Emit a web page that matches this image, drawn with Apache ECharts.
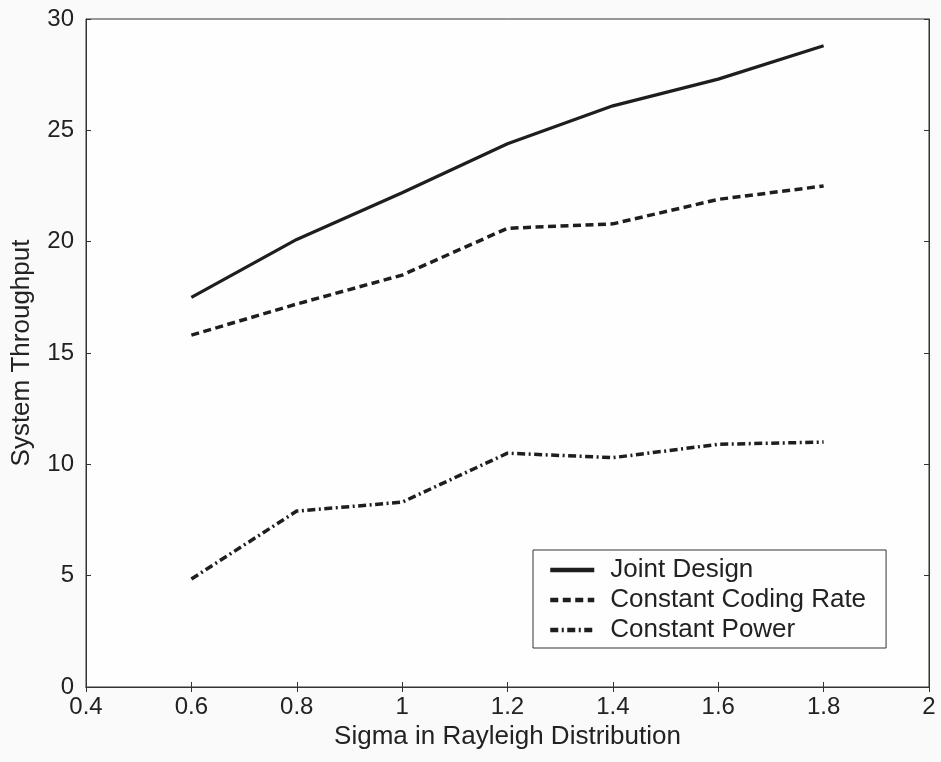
<!DOCTYPE html>
<html>
<head>
<meta charset="utf-8">
<script src="https://cdn.jsdelivr.net/npm/echarts@6/dist/echarts.min.js"></script>
<style>
html,body{margin:0;padding:0;background:#fafafa;}
#c{width:941px;height:762px;}
</style>
</head>
<body>
<div id="c"></div>
<script>
var sigma = [0.6, 0.8, 1.0, 1.2, 1.4, 1.6, 1.8];
var jointDesign = [17.5, 20.1, 22.2, 24.4, 26.1, 27.3, 28.8];
var constantCodingRate = [15.8, 17.2, 18.5, 20.6, 20.8, 21.9, 22.5];
var constantPower = [4.85, 7.9, 8.3, 10.5, 10.3, 10.9, 11.0];
var xTicks = {min: 0.4, max: 2, interval: 0.2};
var yTicks = {min: 0, max: 30, interval: 5};

function pairs(xs, ys) { return xs.map(function (x, i) { return [x, ys[i]]; }); }

var ink = '#1e1e1e';
var font = 'Liberation Sans, Arial, sans-serif';
var chart = echarts.init(document.getElementById('c'));
var axisCommon = {
  axisLine: {show: true, lineStyle: {color: '#333', width: 1}},
  axisTick: {show: true, inside: true, length: 5, lineStyle: {color: '#333'}},
  splitLine: {show: false}
};
chart.setOption({
  backgroundColor: '#fafafa',
  animation: false,
  grid: {left: 86, right: 12, top: 19, bottom: 75, show: true, backgroundColor: '#fefefe', borderColor: '#333', borderWidth: 1},
  legend: {
    orient: 'vertical', left: 533, top: 550,
    backgroundColor: '#fefefe', borderColor: '#333', borderWidth: 1,
    padding: [7, 20, 5, 15], itemGap: 4, itemWidth: 44, itemHeight: 26,
    itemStyle: {opacity: 0},
    lineStyle: {width: 4.5},
    textStyle: {fontFamily: font, fontSize: 26, color: '#222', padding: [0, 0, 0, 11]},
    data: ['Joint Design', 'Constant Coding Rate', 'Constant Power']
  },
  xAxis: [
    Object.assign({
      type: 'value', min: xTicks.min, max: xTicks.max, interval: xTicks.interval,
      name: 'Sigma in Rayleigh Distribution', nameLocation: 'middle', nameGap: 30,
      nameTextStyle: {fontFamily: font, fontSize: 26, color: '#222', verticalAlign: 'top'},
      axisLabel: {fontFamily: font, fontSize: 24, color: '#222', margin: 8}
    }, axisCommon),
    Object.assign({
      type: 'value', position: 'top', min: xTicks.min, max: xTicks.max, interval: xTicks.interval,
      axisLabel: {show: false}
    }, axisCommon)
  ],
  yAxis: [
    Object.assign({
      type: 'value', min: yTicks.min, max: yTicks.max, interval: yTicks.interval,
      name: 'System Throughput', nameLocation: 'middle', nameGap: 51,
      nameTextStyle: {fontFamily: font, fontSize: 26, color: '#222'},
      axisLabel: {fontFamily: font, fontSize: 24, color: '#222', margin: 12}
    }, axisCommon),
    Object.assign({
      type: 'value', position: 'right', min: yTicks.min, max: yTicks.max, interval: yTicks.interval,
      axisLabel: {show: false}
    }, axisCommon)
  ],
  series: [
    {name: 'Joint Design', type: 'line', data: pairs(sigma, jointDesign), symbol: 'none',
     lineStyle: {color: ink, width: 3.2}, itemStyle: {color: ink}},
    {name: 'Constant Coding Rate', type: 'line', data: pairs(sigma, constantCodingRate), symbol: 'none',
     lineStyle: {color: ink, width: 3.5, type: [8, 4.5]}, itemStyle: {color: ink}},
    {name: 'Constant Power', type: 'line', data: pairs(sigma, constantPower), symbol: 'none',
     lineStyle: {color: ink, width: 3.5, type: [8, 3.5, 2, 3.5]}, itemStyle: {color: ink}}
  ]
});
</script>
</body>
</html>
